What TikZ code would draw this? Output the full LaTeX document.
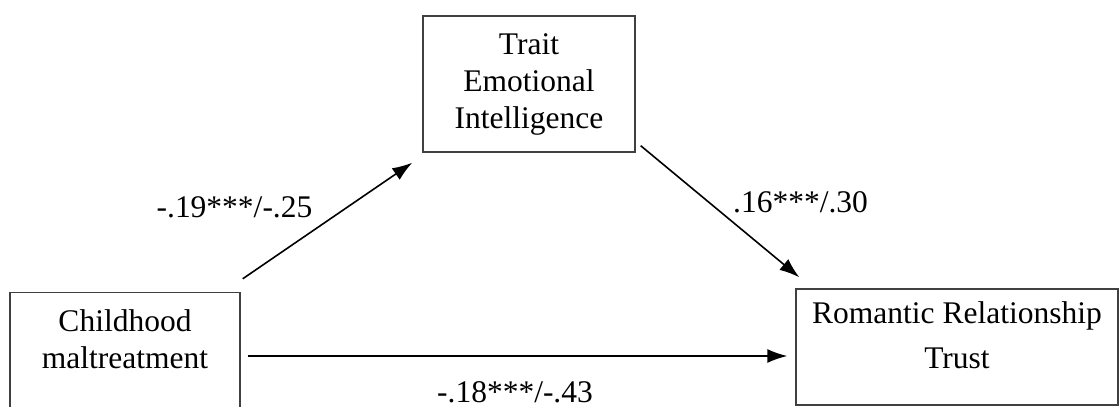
\documentclass[tikz,border=0pt]{standalone}
\usepackage{fontspec}
\setmainfont{Liberation Serif}
\usepackage{tikz}
\usetikzlibrary{
    arrows.meta,
    positioning,
    calc
}

\begin{document}
\begin{tikzpicture}[
    x=1pt, y=-1pt,
    box/.style={
        rectangle,
        draw=black!75,
        line width=1.4pt,
        inner sep=0pt
    },
    boxtext/.style={
        align=center,
        inner sep=0pt,
        font=\fontsize{31.5}{37}\selectfont
    },
    coef/.style={
        anchor=base,
        inner sep=0pt,
        font=\fontsize{31.5}{37}\selectfont
    },
    arrow/.style={
        -{Latex[length=20pt, width=14pt]},
        line width=1.6pt
    }
]
\useasboundingbox (0,0) rectangle (1120,407);

\node[box, minimum width=230pt, minimum height=117pt] (child) at (125,351) {};
\node[box, minimum width=212pt, minimum height=136pt] (trait) at (529,84) {};
\node[box, minimum width=322pt, minimum height=116pt] (trust) at (957,347) {};

\node[boxtext, below=18pt of child.north] (childtext) {Childhood\\maltreatment};
\node[boxtext, below=18pt of trait.north] (traittext) {Trait\\Emotional\\Intelligence};
\node[boxtext, below=13pt of trust.north] (trusttext) {Romantic Relationship\\[8pt]Trust};

% Pfade
\draw[arrow] ([shift={(2,-13)}]child.north east) -- ([shift={(-10,10)}]trait.south west);
\draw[arrow] ([shift={(5,-7)}]trait.south east) -- ([shift={(4,-11)}]trust.north west);
\draw[arrow] ([shift={(7,5)}]child.east) -- ([shift={(-8,9)}]trust.west);

% Koeffizienten
\node[coef] (a) at (234.5,217) {-.19***/-.25};
\node[coef] (b) at (800.5,212) {.16***/.30};
\node[coef] (c) at (515,402) {-.18***/-.43};

\end{tikzpicture}
\end{document}
